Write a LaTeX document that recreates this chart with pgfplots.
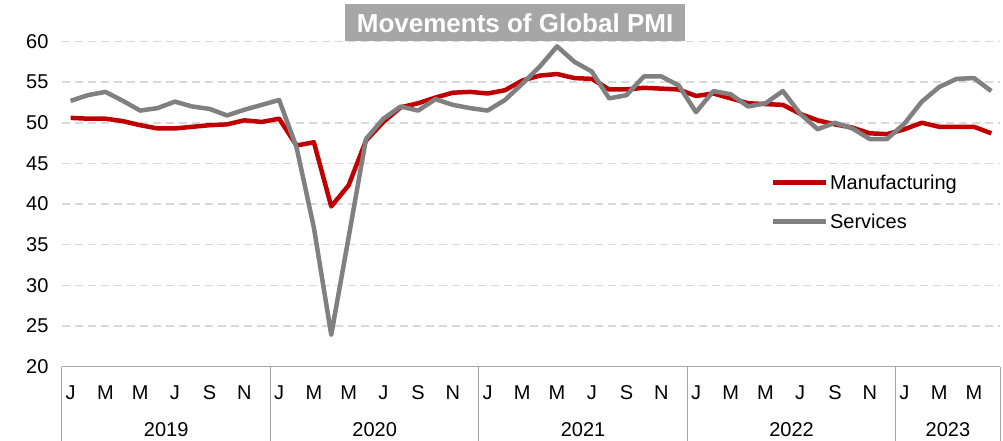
\documentclass[border=0pt]{standalone}
\usepackage{fontspec}
\setmainfont{Liberation Sans}
\usepackage{pgfplots}
\usepackage{pgfplotstable}
\pgfplotsset{compat=1.18}

\definecolor{mfgred}{HTML}{C00000}
\definecolor{svcgray}{HTML}{808080}
\definecolor{gridgray}{HTML}{D9D9D9}
\definecolor{titlegray}{HTML}{A6A6A6}
\definecolor{axisgray}{HTML}{A6A6A6}

% month index (0 = Jan 2019), plotted at i+0.5
\pgfplotstableread{
i   mfg   svc
0   50.6  52.7
1   50.5  53.4
2   50.5  53.8
3   50.2  52.7
4   49.7  51.5
5   49.3  51.8
6   49.3  52.6
7   49.5  52.0
8   49.7  51.7
9   49.8  50.9
10  50.3  51.6
11  50.1  52.2
12  50.5  52.8
13  47.2  47.0
14  47.6  37.1
15  39.7  23.9
16  42.3  35.9
17  47.8  48.0
18  50.1  50.5
19  51.9  52.0
20  52.4  51.5
21  53.1  52.9
22  53.7  52.2
23  53.8  51.8
24  53.6  51.5
25  54.0  52.8
26  55.2  54.8
27  55.8  56.9
28  56.0  59.4
29  55.5  57.5
30  55.4  56.3
31  54.1  53.0
32  54.1  53.4
33  54.3  55.7
34  54.2  55.7
35  54.1  54.6
36  53.3  51.3
37  53.6  53.9
38  53.0  53.5
39  52.4  52.0
40  52.3  52.4
41  52.2  53.9
42  51.1  51.1
43  50.3  49.2
44  49.8  50.0
45  49.4  49.3
46  48.7  48.0
47  48.6  48.0
48  49.2  49.9
49  50.0  52.6
50  49.5  54.4
51  49.5  55.4
52  49.5  55.5
53  48.7  53.9
}\pmi

\begin{document}
\begin{tikzpicture}
\begin{axis}[
    scale only axis, width=938pt, height=325pt,
    xmin=0, xmax=54, ymin=20, ymax=60,
    font=\fontsize{20}{24}\selectfont,
    axis x line=bottom, axis y line=left, axis line style={-},
    y axis line style={draw=none},
    x axis line style={draw=axisgray, line width=1pt},
    ytick={20,25,...,60},
    ymajorgrids, major grid style={gridgray, line width=1.5pt, dash pattern=on 8pt off 5pt},
    /pgf/number format/assume math mode=true,
    yticklabel style={anchor=east, xshift=-10pt},
    xtick={0.5,2.5,...,52.5},
    xticklabels={J,M,M,J,S,N,J,M,M,J,S,N,J,M,M,J,S,N,J,M,M,J,S,N,J,M,M},
    xticklabel style={anchor=base, yshift=-33pt},
    tick style={draw=none}, major tick length=0pt,
    extra x ticks={0,12,24,36,48,54}, extra x tick labels={},
    extra x tick style={major tick length=74pt, tick align=outside,
        tick style={draw=axisgray, line width=1pt}},
    clip=false,
    legend style={at={(rel axis cs:0.752,0.603)}, anchor=north west,
        draw=none, fill=none, font=\fontsize{20}{24}\selectfont,
        row sep=19pt, cells={anchor=west}},
    legend image code/.code={\draw[#1] (0pt,0pt) -- (53pt,0pt);},
]
\addplot[mfgred, line width=4.5pt, line join=round] table[x expr=\thisrow{i}+0.5, y=mfg] {\pmi};
\addlegendentry{Manufacturing}
\addplot[svcgray, line width=4.5pt, line join=round] table[x expr=\thisrow{i}+0.5, y=svc] {\pmi};
\addlegendentry{Services}

\node[anchor=base, yshift=-70pt] at (axis cs:6,20) {2019};
\node[anchor=base, yshift=-70pt] at (axis cs:18,20) {2020};
\node[anchor=base, yshift=-70pt] at (axis cs:30,20) {2021};
\node[anchor=base, yshift=-70pt] at (axis cs:42,20) {2022};
\node[anchor=base, yshift=-70pt] at (axis cs:51,20) {2023};
\node[anchor=south, fill=titlegray, text=white, inner xsep=12pt, minimum height=37pt,
      font=\fontsize{26}{30}\selectfont\bfseries] at (rel axis cs:0.483,1) {Movements of Global PMI};
\end{axis}
\pgfresetboundingbox
\path ([xshift=-62pt,yshift=-73.5pt]current axis.south west) rectangle ([xshift=3pt,yshift=41.5pt]current axis.north east);
\end{tikzpicture}
\end{document}
